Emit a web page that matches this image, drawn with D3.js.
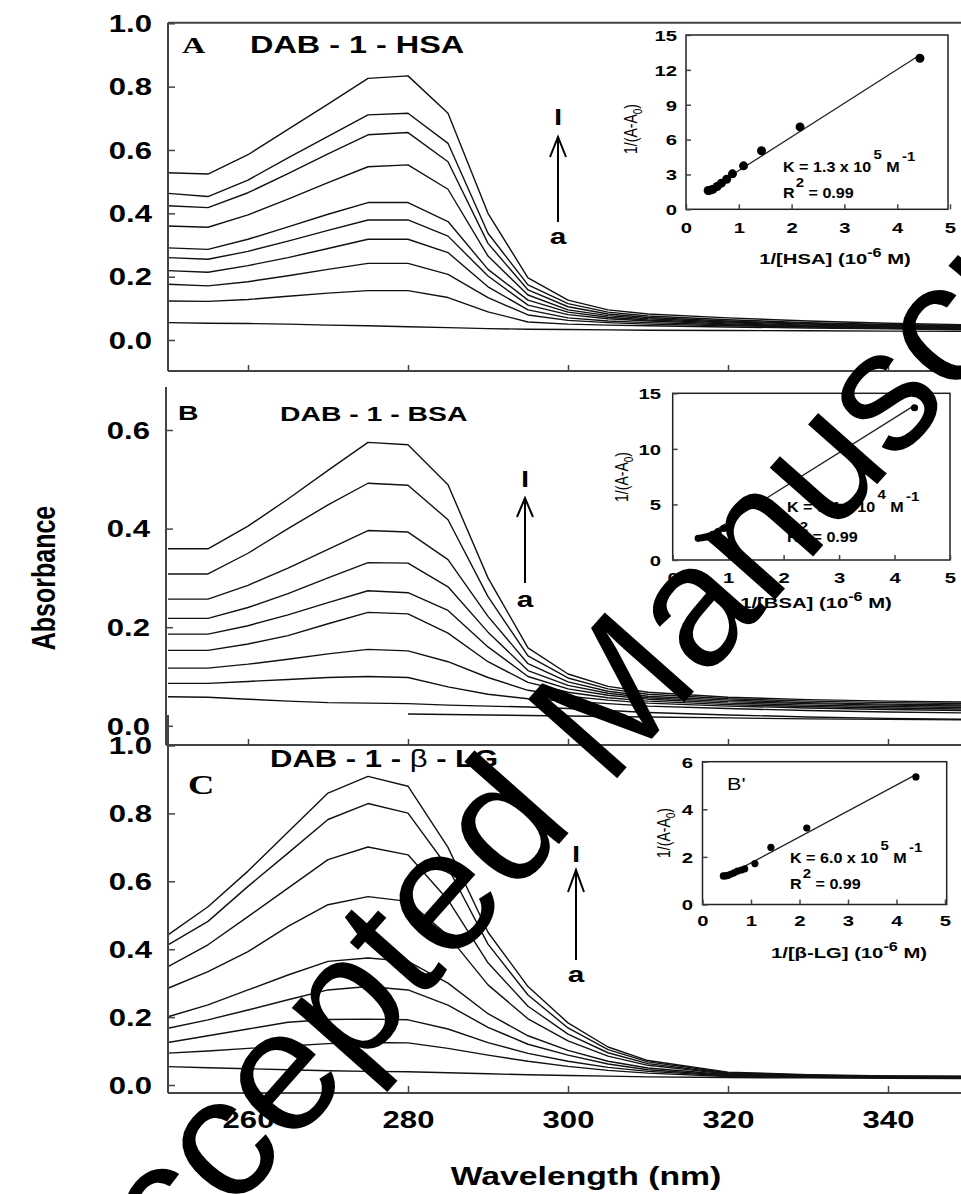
<!DOCTYPE html>
<html><head><meta charset="utf-8">
<script src="https://cdn.jsdelivr.net/npm/d3@7"></script>
<style>body{margin:0;background:#fff}svg{display:block}</style>
</head><body>
<svg id="c" width="961" height="1194"></svg>
<script>
// ---------- data ----------
const wavelengths = [250,255,260,265,270,275,280,285,290,295,300,305,310,320,330,340,350];
const xTicks = [260,280,300,320,340];

const seriesA = [
 [.528,.524,.585,.665,.745,.826,.834,.716,.400,.196,.126,.095,.082,.070,.060,.053,.048],
 [.463,.453,.505,.575,.643,.711,.716,.621,.337,.174,.115,.088,.076,.064,.055,.049,.046],
 [.424,.418,.465,.525,.588,.648,.655,.563,.305,.158,.105,.082,.071,.060,.052,.047,.044],
 [.360,.356,.395,.445,.497,.547,.553,.476,.265,.142,.095,.077,.067,.057,.050,.045,.042],
 [.291,.286,.318,.357,.397,.434,.434,.374,.223,.126,.088,.072,.063,.054,.047,.043,.040],
 [.260,.255,.280,.312,.346,.379,.379,.328,.202,.110,.080,.067,.060,.051,.045,.041,.038],
 [.219,.214,.235,.260,.289,.318,.318,.276,.168,.095,.070,.060,.055,.048,.043,.039,.036],
 [.176,.171,.184,.203,.223,.242,.242,.207,.134,.079,.062,.055,.050,.045,.041,.037,.034],
 [.123,.122,.128,.138,.148,.156,.156,.134,.089,.057,.050,.047,.045,.041,.038,.035,.032],
 [.055,.053,.052,.050,.047,.045,.042,.039,.036,.034,.033,.032,.031,.030,.029,.028,.027]
];
const seriesB = [
 [.359,.359,.405,.460,.518,.575,.570,.489,.300,.158,.105,.080,.068,.058,.053,.050,.048],
 [.308,.308,.350,.400,.448,.492,.488,.418,.262,.142,.097,.075,.064,.055,.050,.047,.045],
 [.257,.257,.285,.320,.358,.396,.393,.337,.222,.126,.089,.070,.060,.052,.047,.044,.042],
 [.218,.218,.240,.268,.300,.331,.330,.282,.190,.112,.082,.066,.057,.049,.045,.042,.040],
 [.186,.186,.203,.225,.250,.274,.270,.234,.160,.100,.075,.062,.054,.046,.042,.039,.037],
 [.153,.153,.166,.183,.207,.230,.227,.188,.130,.088,.068,.057,.050,.043,.039,.036,.034],
 [.117,.117,.125,.135,.146,.155,.152,.130,.098,.072,.060,.052,.046,.040,.036,.033,.031],
 [.086,.086,.090,.094,.098,.100,.098,.079,.064,.055,.050,.045,.040,.035,.031,.028,.026],
 [.059,.058,.054,.050,.047,.046,.045,.042,.040,.038,.035,.031,.027,.022,.018,.015,.013],
 [null,null,null,null,null,null,.024,.023,.022,.021,.020,.019,.018,.016,.014,.013,.012]
];
const seriesC = [
 [.442,.525,.630,.745,.860,.909,.880,.700,.450,.290,.183,.112,.072,.038,.030,.027,.026],
 [.413,.482,.585,.683,.782,.829,.801,.640,.415,.265,.168,.104,.068,.036,.029,.026,.025],
 [.349,.413,.496,.580,.664,.701,.678,.545,.360,.232,.150,.095,.063,.034,.028,.025,.024],
 [.285,.334,.393,.467,.531,.555,.541,.440,.295,.195,.130,.085,.058,.032,.027,.024,.023],
 [.201,.236,.280,.324,.364,.374,.364,.300,.210,.145,.102,.070,.050,.030,.026,.023,.022],
 [.167,.192,.221,.251,.280,.290,.280,.235,.170,.120,.088,.062,.045,.028,.025,.022,.021],
 [.125,.145,.165,.185,.193,.194,.192,.165,.125,.093,.070,.052,.040,.027,.024,.022,.021],
 [.094,.100,.108,.115,.122,.125,.124,.108,.088,.070,.055,.043,.035,.025,.023,.021,.020],
 [.054,.051,.048,.045,.042,.040,.039,.036,.033,.030,.028,.026,.024,.022,.021,.020,.019]
];
const yTicksA = [0,0.2,0.4,0.6,0.8,1.0];
const yTicksB = [0,0.2,0.4,0.6];
const yTicksC = [0,0.2,0.4,0.6,0.8,1.0];

const insetA_x = [0.42,0.46,0.51,0.59,0.67,0.77,0.88,1.09,1.43,2.16,4.43];
const insetA_y = [1.62,1.65,1.73,1.96,2.25,2.59,3.05,3.74,5.04,7.09,13.0];
const insetB_x = [0.46,0.52,0.58,0.65,0.72,0.82,0.92,1.05,1.45,2.15,4.36];
const insetB_y = [1.95,2.00,2.05,2.15,2.30,2.55,2.85,3.60,5.10,7.50,13.7];
const insetC_x = [0.43,0.47,0.52,0.58,0.65,0.72,0.80,0.87,1.08,1.41,2.15,4.40];
const insetC_y = [1.20,1.20,1.22,1.27,1.33,1.40,1.45,1.50,1.72,2.40,3.21,5.36];
const insetXTicks = [0,1,2,3,4,5];
const insetA_yTicks = [0,3,6,9,12,15];
const insetB_yTicks = [0,5,10,15];
const insetC_yTicks = [0,2,4,6];

// ---------- helpers ----------
const SX = 1.35;
const FONT = "'Liberation Sans', Arial, Helvetica, sans-serif";
const SERIF = "'Liberation Serif', 'Times New Roman', serif";
const FR = "#444";
const svg = d3.select("#c");

function label(parent, x, y, parts, opt) {
  const o = Object.assign({size:14, weight:"bold", anchor:"start", family:FONT, sx:SX, rot:0, fill:"#000"}, opt||{});
  const t = parent.append("text")
    .attr("transform", `translate(${x},${y}) scale(${o.sx},1)` + (o.rot ? ` rotate(${o.rot})` : ""))
    .attr("font-size", o.size).attr("font-weight", o.weight).attr("font-family", o.family)
    .attr("text-anchor", o.anchor).attr("fill", o.fill);
  if (typeof parts === "string") t.text(parts);
  else parts.forEach(p => {
    const s = t.append("tspan").text(p.t);
    if (p.dy) s.attr("dy", p.dy);
    if (p.dx) s.attr("dx", p.dx);
    if (p.size) s.attr("font-size", p.size);
    if (p.weight) s.attr("font-weight", p.weight);
    if (p.family) s.attr("font-family", p.family);
  });
  return t;
}
function hline(x1,x2,y,w,c){svg.append("line").attr("x1",x1).attr("x2",x2).attr("y1",y).attr("y2",y).attr("stroke",c||FR).attr("stroke-width",w||2);}
function vline(x,y1,y2,w,c){svg.append("line").attr("x1",x).attr("x2",x).attr("y1",y1).attr("y2",y2).attr("stroke",c||FR).attr("stroke-width",w||2);}

function yAxis(scale, ticks, x0, len, fmt, labelRight, size) {
  const a = svg.append("g").attr("transform",`translate(${x0},0)`)
    .call(d3.axisLeft(scale).tickValues(ticks).tickSize(-len).tickFormat(fmt));
  a.select(".domain").remove();
  a.attr("font-size",null).attr("font-family",null);
  a.selectAll(".tick line").attr("stroke",FR).attr("stroke-width",1.5);
  a.selectAll(".tick text").attr("x",0).attr("dy","0.36em")
    .attr("transform",`translate(${labelRight-x0},0) scale(${SX},1)`)
    .attr("text-anchor","end").attr("font-size",size).attr("font-weight","bold")
    .attr("font-family",FONT).attr("fill","#000");
  return a;
}
function xAxis(scale, ticks, y0, len, fmt, baseline, size) {
  const a = svg.append("g").attr("transform",`translate(0,${y0})`)
    .call(d3.axisBottom(scale).tickValues(ticks).tickSize(-len).tickFormat(fmt));
  a.select(".domain").remove();
  a.attr("font-size",null).attr("font-family",null);
  a.selectAll(".tick line").attr("stroke",FR).attr("stroke-width",1.5);
  a.selectAll(".tick text").attr("y",0).attr("dy",null)
    .attr("transform",`translate(0,${baseline-y0}) scale(${SX},1)`)
    .attr("text-anchor","middle").attr("font-size",size).attr("font-weight","bold")
    .attr("font-family",FONT).attr("fill","#000");
  return a;
}

// ---------- main scales ----------
const x = d3.scaleLinear([250,350],[168,968]);
const yA = d3.scaleLinear([0,1],[340,23.3]);
const yB = d3.scaleLinear([0,0.6],[725.8,430]);
const yC = d3.scaleLinear([0,1],[1085,745.5]);

function drawSeries(series, y) {
  const line = d3.line().defined(d => d[1] != null).x(d => x(d[0])).y(d => y(d[1]));
  svg.append("g").selectAll("path").data(series).join("path")
    .attr("d", s => line(wavelengths.map((w,i) => [w, s[i]])))
    .attr("fill","none").attr("stroke","#111").attr("stroke-width",1.4).attr("stroke-linejoin","round");
}
drawSeries(seriesA, yA);
drawSeries(seriesB, yB);
drawSeries(seriesC, yC);

// frames
hline(168, 961, 22.7);
vline(168, 22.7, 371);
hline(168, 961, 371);
vline(166, 387, 745);
hline(166, 961, 745);
vline(168, 715, 1093);
hline(168, 961, 1093);

const f1 = d3.format(".1f");
yAxis(yA, yTicksA, 168, 7, f1, 152, 23);
yAxis(yB, yTicksB, 166, 7, f1, 150, 23);
yAxis(yC, yTicksC, 168, 7, f1, 152, 23);
xAxis(x, xTicks, 371, 6, () => "", 0, 10);
xAxis(x, xTicks, 745, 6, () => "", 0, 10);
xAxis(x, xTicks, 1093, 7, d3.format("d"), 1128, 23);

// axis titles
label(svg, 586, 1185, "Wavelength (nm)", {size:25, anchor:"middle"});
label(svg, 55, 578, "Absorbance", {size:25, weight:"bold", anchor:"middle", rot:-90});

// panel labels & titles
label(svg, 182, 53, "A", {size:24, family:SERIF});
label(svg, 250, 53, "DAB - 1 - HSA", {size:24, anchor:"start"});
label(svg, 178, 420, "B", {size:21});
label(svg, 280, 420.7, "DAB - 1 - BSA", {size:21});
label(svg, 188, 794, "C", {size:27, family:SERIF});
label(svg, 270, 766.7, [{t:"DAB - 1 - "},{t:"β", weight:"normal"},{t:" - LG"}], {size:23});

// arrows
function arrow(cx, lBase, apex, wingY, bottom, aBase) {
  label(svg, cx, lBase, "l", {size:22, anchor:"middle"});
  const g = svg.append("g").attr("stroke","#000").attr("stroke-width",2).attr("fill","none");
  g.append("line").attr("x1",cx).attr("x2",cx).attr("y1",apex).attr("y2",bottom);
  g.append("polyline").attr("points",`${cx-8},${wingY} ${cx},${apex} ${cx+8},${wingY}`);
  label(svg, cx, aBase, "a", {size:22, anchor:"middle"});
}
arrow(558, 125, 137, 157, 222, 244);
arrow(525, 487, 498, 517, 583, 607);
arrow(576, 862, 870, 892, 960, 982);

// ---------- insets ----------
function inset(cfg) {
  const xs = d3.scaleLinear([0,5],[cfg.x0, cfg.x5]);
  const ys = d3.scaleLinear([0,cfg.yMax],[cfg.yb, cfg.yt]);
  svg.append("rect").attr("x",cfg.x0).attr("y",cfg.yt).attr("width",cfg.right-cfg.x0).attr("height",cfg.yb-cfg.yt)
    .attr("fill","none").attr("stroke","#222").attr("stroke-width",1.5);
  yAxis(ys, cfg.yTicks, cfg.x0, 5, d3.format("d"), cfg.yLabelRight, 15);
  xAxis(xs, insetXTicks, cfg.yb, 5, d3.format("d"), cfg.xLabelBase, 15);
  // fit line (least squares of the points)
  const px = cfg.px, py = cfg.py;
  const mx = d3.mean(px), my = d3.mean(py);
  const b = d3.sum(px.map((v,i)=>(v-mx)*(py[i]-my))) / d3.sum(px.map(v=>(v-mx)*(v-mx)));
  const a0 = my - b*mx;
  const xmin = d3.min(px), xmax = d3.max(px);
  svg.append("line").attr("x1",xs(xmin)).attr("y1",ys(a0+b*xmin)).attr("x2",xs(xmax)).attr("y2",ys(a0+b*xmax))
    .attr("stroke","#222").attr("stroke-width",1.3);
  svg.append("g").selectAll("circle").data(px.map((v,i)=>[v,py[i]])).join("circle")
    .attr("cx",d=>xs(d[0])).attr("cy",d=>ys(d[1])).attr("r",cfg.r).attr("fill","#000");
  label(svg, cfg.ytx, cfg.yty, [{t:"1/(A-A"},{t:"0", dy:4, size:10},{t:")", dy:-4}], {size:14, weight:"normal", anchor:"middle", rot:-90});
  label(svg, cfg.xtx, cfg.xty, [{t:cfg.xname + " (10"},{t:"-6", dy:-7, size:12},{t:" M)", dy:7}], {size:15, anchor:"middle"});
  label(svg, cfg.kx, cfg.ky, [{t:cfg.k},{t:cfg.kexp, dy:-13, dx:2, size:13},{t:" M", dy:13},{t:"-1", dy:-11, dx:2, size:13}], {size:14, sx:1.15});
  label(svg, cfg.kx, cfg.ry, [{t:"R"},{t:"2", dy:-11, dx:1, size:13},{t:" = 0.99", dy:11}], {size:14, sx:1.15});
}
inset({x0:686, x5:950, right:948, yt:35, yb:209.3, yMax:15, yTicks:insetA_yTicks, yLabelRight:677, xLabelBase:233,
  px:insetA_x, py:insetA_y, r:4.5, ytx:637, yty:129, xtx:835, xty:264, xname:"1/[HSA]",
  k:"K = 1.3 x 10", kexp:"5", kx:783, ky:172, ry:198});
inset({x0:672.7, x5:950, right:950, yt:393.3, yb:560, yMax:15, yTicks:insetB_yTicks, yLabelRight:661, xLabelBase:583,
  px:insetB_x, py:insetB_y, r:3.6, ytx:628, yty:477, xtx:816, xty:608, xname:"1/[BSA]",
  k:"K = 9.4 x 10", kexp:"4", kx:787, ky:512, ry:542});
inset({x0:702.5, x5:945, right:946.7, yt:761.7, yb:904.5, yMax:6, yTicks:insetC_yTicks, yLabelRight:693, xLabelBase:926,
  px:insetC_x, py:insetC_y, r:3.6, ytx:670, yty:833, xtx:849, xty:958, xname:"1/[β-LG]",
  k:"K = 6.0 x 10", kexp:"5", kx:790, ky:863, ry:889});
label(svg, 727, 790, "B'", {size:16, weight:"normal"});

// ---------- watermark ----------
svg.append("text").attr("transform","translate(98,1365) rotate(-48.5)")
  .attr("font-size",173).attr("font-family",FONT).attr("fill","#000").text("Accepted Manuscript");
</script>
</body></html>
